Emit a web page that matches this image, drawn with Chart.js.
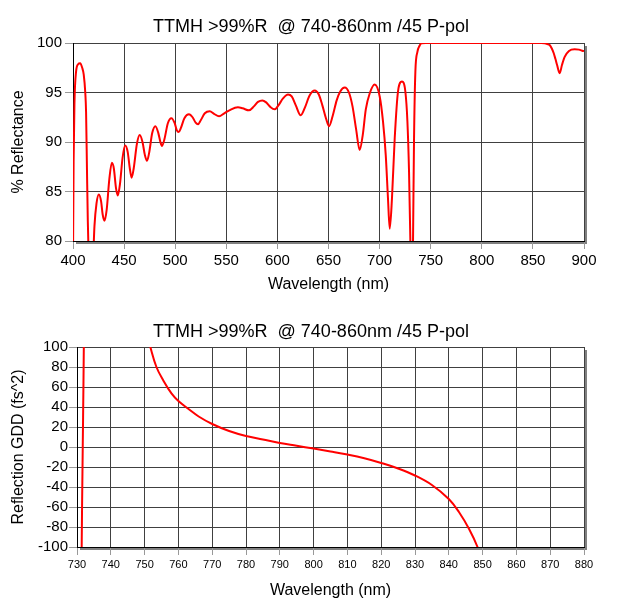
<!DOCTYPE html>
<html>
<head>
<meta charset="utf-8">
<script src="https://cdn.jsdelivr.net/npm/chart.js@4.4.0/dist/chart.umd.min.js"></script>
<style>
  html, body { margin: 0; padding: 0; background: #fff; }
  #wrap { position: relative; width: 624px; height: 610px; }
  canvas { position: absolute; left: 0; }
  #c1 { top: 0; }
  #c2 { top: 305px; }
</style>
</head>
<body>
<div id="wrap">
  <canvas id="c1" width="624" height="305"></canvas>
  <canvas id="c2" width="624" height="305"></canvas>
</div>
<script>
// ---------- Data ----------
const chartTitle = 'TTMH >99%R  @ 740-860nm /45 P-pol';

// Top chart: reflectance vs wavelength
const topWavelength = [
  400, 400.6, 401.4, 403, 405, 407, 409, 410.5, 412, 412.8, 413.7, 414.5, 415.2, 417.5, 420,
  421, 423, 425.3, 427.5, 429, 430.8, 433, 435.5, 438, 440, 442, 443.8, 446, 448.5, 451,
  453.5, 455.5, 457.4, 459.5, 462.5, 465.3, 468, 470.3, 472.4, 474.5, 477.5, 480.6, 483.5,
  485.5, 487.1, 489.5, 492.8, 496.3, 499.5, 501.5, 503.4, 505.5, 509, 513.5, 517, 520, 522.3,
  525, 529, 533.8, 538, 542.9, 548, 553, 561.4, 566, 572.2, 577, 581, 585.3, 589, 593, 597.4,
  601, 605.5, 610.4, 614, 618, 622.8, 627, 631.5, 636.5, 640.5, 644, 647.5, 650.5, 654, 658,
  661.5, 665.9, 670, 673.5, 677, 680.5, 683.5, 686.5, 690.3, 695.2, 700.1, 703.3, 706, 708.2,
  709.9, 712.1, 714.8, 718, 721.9, 725.2, 727.2, 728.8, 730.1, 731.5, 732.7, 733.7, 735, 737,
  739, 741, 745, 800, 858, 861.5, 864, 866.4, 868.5, 870.4, 872, 873.6, 876.2, 878.5, 881.1,
  885.3, 890.9, 895, 899, 900
];
const topReflectance = [
  78, 88, 93.8, 97.1, 97.85, 97.95, 97.5, 96.8, 95, 93, 87, 82, 79, 74, 79,
  81.5, 83.8, 84.7, 84.0, 82.7, 82.05, 83.2, 86.2, 87.9, 87.3, 85.4, 84.6, 85.8, 88.4, 89.65,
  89.0, 87.4, 86.4, 87.4, 89.8, 90.7, 90.0, 88.7, 88.1, 88.9, 90.9, 91.6, 90.9,
  90.0, 89.6, 90.3, 91.9, 92.4, 91.9, 91.2, 91.0, 91.4, 92.4, 92.8, 92.5, 91.95, 91.8,
  92.2, 92.9, 93.1, 92.85, 92.6, 92.9, 93.2, 93.5, 93.4, 93.2, 93.6, 94.05, 94.2, 94.0, 93.55, 93.3,
  93.7, 94.4, 94.8, 94.6, 93.7, 92.7, 93.5, 94.7, 95.2, 94.8, 93.7, 92.4, 91.6, 92.6, 94.2,
  95.1, 95.5, 95.0, 93.6, 91.3, 89.2, 90.7, 93.3, 94.9, 95.8, 94.6, 92.1, 88.7, 84.3,
  81.25, 84.3, 90.4, 95.1, 96.1, 95.1, 92.1, 87, 80, 70, 80, 90.4, 97.1, 99.1,
  99.7, 99.97, 100, 100, 100, 99.97, 99.9, 99.8, 99.45, 98.96, 98.4, 97.8, 96.95, 97.8, 98.6,
  99.2, 99.36, 99.33, 99.2, 99.18
];
const topXTicks = [400, 450, 500, 550, 600, 650, 700, 750, 800, 850, 900];
const topYTicks = [80, 85, 90, 95, 100];

// Bottom chart: reflection GDD vs wavelength (null = curve off scale / pole)
const gddWavelength = [
  731.3, 731.5, 731.7, 731.9, 732.1, 742,
  751.2, 751.7, 753.5, 755.5, 758, 760, 763, 766, 770, 775, 780, 785, 790,
  795, 800, 805, 810, 815, 820, 825, 830, 835, 840, 843, 846, 848.5, 849.5
];
const gddValue = [
  -130, -60, 0, 60, 130, null,
  108, 100, 80, 66.7, 53.3, 46, 38, 30.5, 23, 16, 11, 7.5, 4,
  1.2, -1.6, -4.5, -7.6, -11.3, -16, -21.5, -28.5, -38, -52, -65, -82, -100, -112
];
const gddXTicks = [730, 740, 750, 760, 770, 780, 790, 800, 810, 820, 830, 840, 850, 860, 870, 880];
const gddYTicks = [-100, -80, -60, -40, -20, 0, 20, 40, 60, 80, 100];

// ---------- Styling helpers ----------
const FONT = '"Liberation Sans", Arial, Helvetica, sans-serif';
const GRID = '#404040';

const frame = {
  id: 'frame',
  beforeDraw(chart) {
    const {ctx, chartArea: a} = chart;
    ctx.save();
    ctx.fillStyle = '#808080';
    ctx.fillRect(a.left + 3, a.top + 3, a.right - a.left, a.bottom - a.top);
    ctx.fillStyle = '#ffffff';
    ctx.fillRect(a.left, a.top, a.right - a.left, a.bottom - a.top);
    ctx.restore();
  },
  afterDraw(chart) {
    const ctx = chart.ctx;
    ctx.save();
    ctx.font = '18px ' + FONT;
    ctx.fillStyle = '#000';
    ctx.textAlign = 'center';
    ctx.textBaseline = 'alphabetic';
    ctx.fillText(chartTitle, 311, 31.5);
    ctx.restore();
  }
};

function makeChart(id, xs, ys, o) {
  const pts = xs.map((x, i) => ({x: x, y: ys[i]}));
  return new Chart(document.getElementById(id), {
    type: 'line',
    data: {
      datasets: [{
        data: pts,
        borderColor: '#ff0000',
        borderWidth: 2,
        pointRadius: 0,
        fill: false,
        spanGaps: false,
        cubicInterpolationMode: o.interp,
        tension: o.tension
      }]
    },
    options: {
      responsive: false,
      animation: false,
      events: [],
      layout: {padding: {top: o.top, right: 40, left: 0, bottom: 0}},
      plugins: {legend: {display: false}, tooltip: {enabled: false}, title: {display: false}},
      scales: {
        x: {
          type: 'linear',
          min: o.xTicks[0], max: o.xTicks[o.xTicks.length - 1],
          afterBuildTicks: s => { s.ticks = o.xTicks.map(v => ({value: v})); },
          afterFit: s => { s.height = o.xH; },
          grid: {color: GRID, lineWidth: 1, tickLength: 8, tickColor: '#999', drawTicks: true},
          border: {display: true, color: '#000', width: 1},
          ticks: {color: '#000', font: {family: FONT, size: o.xFont}, padding: 3, maxRotation: 0, autoSkip: false},
          title: {display: true, text: 'Wavelength (nm)', color: '#000', font: {family: FONT, size: 16}, padding: {top: 0, bottom: o.xTitlePad}}
        },
        y: {
          type: 'linear',
          min: o.yTicks[0], max: o.yTicks[o.yTicks.length - 1],
          afterBuildTicks: s => { s.ticks = o.yTicks.map(v => ({value: v})); },
          afterFit: s => { s.width = o.yW; },
          grid: {color: GRID, lineWidth: 1, tickLength: 8, tickColor: '#999', drawTicks: true},
          border: {display: true, color: '#000', width: 1},
          ticks: {color: '#000', font: {family: FONT, size: 15}, padding: o.yPad, autoSkip: false},
          title: {display: true, text: o.yTitle, color: '#000', font: {family: FONT, size: 16}, padding: {top: 9, bottom: 0}}
        }
      }
    },
    plugins: [frame]
  });
}

makeChart('c1', topWavelength, topReflectance, {
  top: 43, xH: 64, yW: 73, xTicks: topXTicks, yTicks: topYTicks, xFont: 15,
  yTitle: '% Reflectance', xTitlePad: 11, yPad: 3, interp: 'monotone', tension: 0
});
makeChart('c2', gddWavelength, gddValue, {
  top: 42, xH: 63, yW: 77, xTicks: gddXTicks, yTicks: gddYTicks, xFont: 11,
  yTitle: 'Reflection GDD (fs^2)', xTitlePad: 10, yPad: 1, interp: 'default', tension: 0.4
});
</script>
</body>
</html>
